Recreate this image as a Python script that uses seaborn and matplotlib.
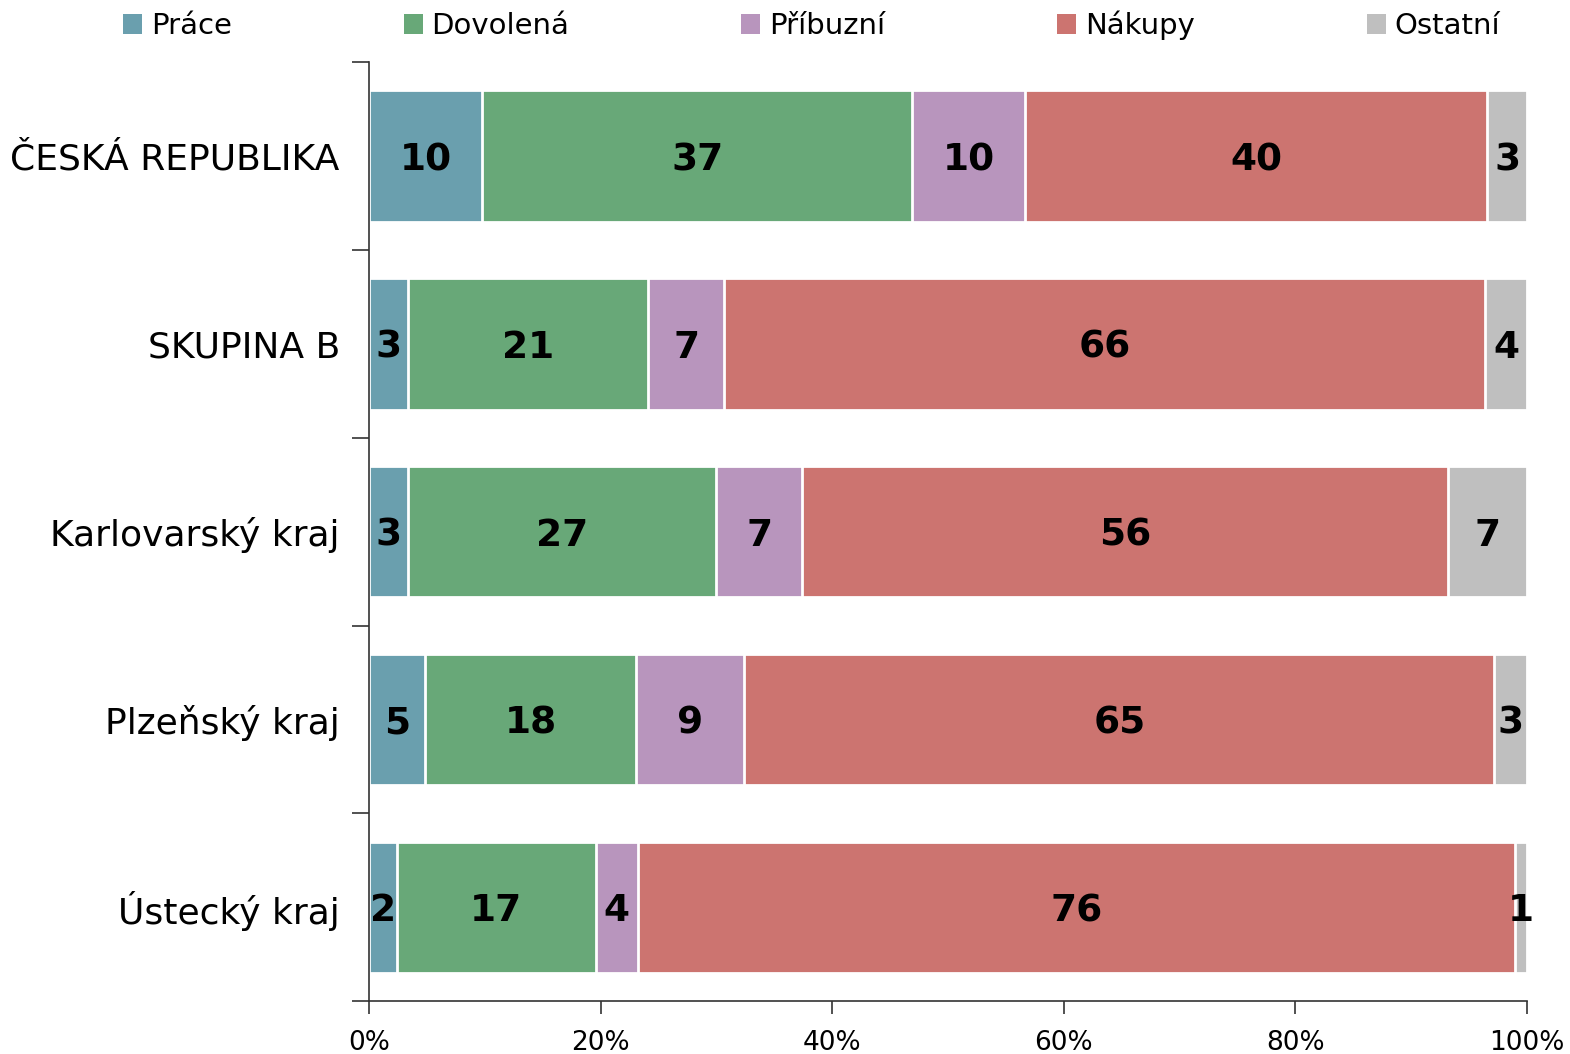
import pandas as pd
import numpy as np
import matplotlib
matplotlib.use("Agg")
import matplotlib.pyplot as plt
import seaborn as sns
from matplotlib.patches import Patch

# data (podíly v %)
regions = ["ČESKÁ REPUBLIKA", "SKUPINA B", "Karlovarský kraj", "Plzeňský kraj", "Ústecký kraj"]
series = ["Práce", "Dovolená", "Příbuzní", "Nákupy", "Ostatní"]
prace = [9.8, 3.4, 3.4, 4.8, 2.4]
dovolena = [37.1, 20.7, 26.6, 18.3, 17.2]
pribuzni = [9.8, 6.6, 7.4, 9.3, 3.6]
nakupy = [39.9, 65.7, 55.8, 64.8, 75.8]
ostatni = [3.4, 3.6, 6.8, 2.8, 1.0]
colors = ["#6a9fae", "#68a878", "#b895bd", "#cc7470", "#bfbfbf"]

df = pd.DataFrame({"region": regions, "Práce": prace, "Dovolená": dovolena,
                   "Příbuzní": pribuzni, "Nákupy": nakupy, "Ostatní": ostatni})
cum = df[series].cumsum(axis=1)

sns.set_theme(style="white")
plt.rcParams["font.family"] = ["DejaVu Sans"]
plt.rcParams["text.color"] = "black"
plt.rcParams["xtick.color"] = "black"
plt.rcParams["ytick.color"] = "black"

fig = plt.figure(figsize=(15.7, 10.54), dpi=100)
ax = fig.add_axes([0.235, 0.050, 0.7375, 0.891])

# skládané pruhy: kreslíme od nejdelšího kumulativního součtu
for s, c in reversed(list(zip(series, colors))):
    sns.barplot(x=cum[s], y=df["region"], color=c, orient="h", width=0.7,
                edgecolor="white", linewidth=2, saturation=1, ax=ax)

# popisky hodnot
for i in range(len(df)):
    left = 0
    for s in series:
        v = df.loc[i, s]
        ax.text(left + v / 2, i, f"{int(v + 0.5):d}", ha="center", va="center_baseline",
                fontsize=27, fontweight="bold", color="black")
        left += v

ax.set_xlim(0, 100)
ax.set_ylim(len(df) - 0.5, -0.5)
ax.set_xticks(np.arange(0, 101, 20))
ax.set_xticklabels([f"{t}%" for t in range(0, 101, 20)], fontsize=19)
ax.set_yticks(range(len(df)))
ax.set_yticklabels(regions, fontsize=26)
ax.set_yticks(np.arange(-0.5, len(df), 1), minor=True)
ax.tick_params(axis="y", which="major", length=0, pad=21)
ax.tick_params(axis="y", which="minor", length=12, width=1.2, color="#333333", left=True)
ax.tick_params(axis="x", which="major", length=9, width=1.2, color="#333333", pad=12, bottom=True)
ax.set_xlabel("")
ax.set_ylabel("")
for sp in ["top", "right"]:
    ax.spines[sp].set_visible(False)
for sp in ["left", "bottom"]:
    ax.spines[sp].set_color("#333333")
    ax.spines[sp].set_linewidth(1.2)

handles = [Patch(facecolor=c, edgecolor="none", label=s) for s, c in zip(series, colors)]
fig.legend(handles=handles, loc="center", bbox_to_anchor=(0.517, 0.976), ncol=5,
           frameon=False, fontsize=21, handlelength=0.65, handleheight=0.65,
           handletextpad=0.3, columnspacing=5.9)

fig.savefig("out.png", dpi=100)
